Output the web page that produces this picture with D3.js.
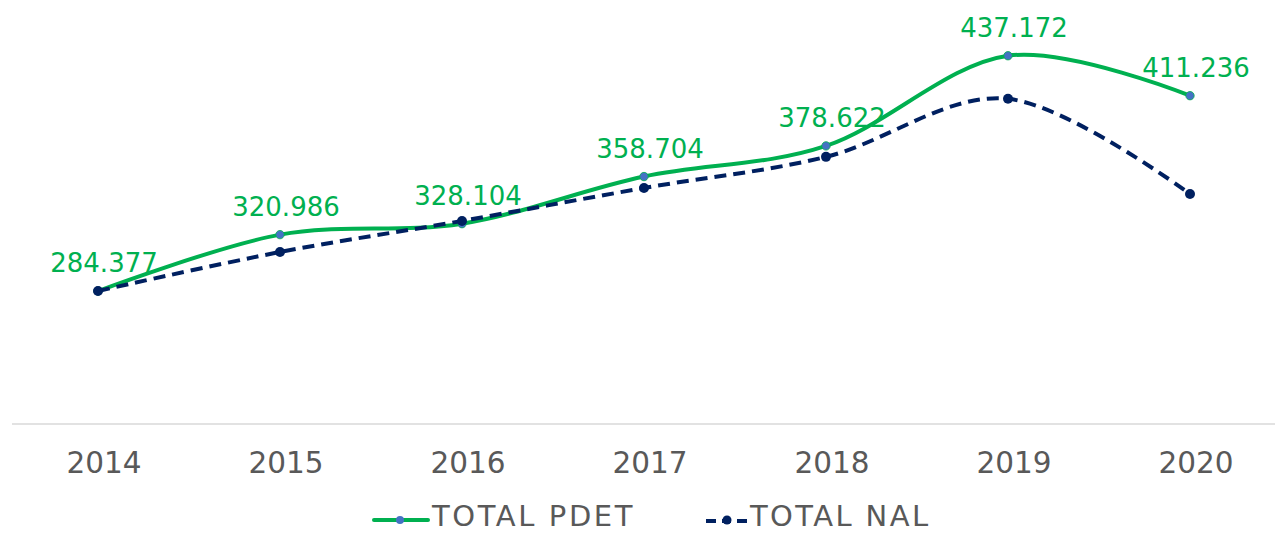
<!DOCTYPE html>
<html>
<head>
<meta charset="UTF-8">
<title>TOTAL PDET vs TOTAL NAL</title>
<script src="https://d3js.org/d3.v7.min.js"></script>
<style>
  body { margin: 0; background: #fff; }
  svg text { font-family: "DejaVu Sans", sans-serif; }
</style>
</head>
<body>
<svg id="chart" width="1275" height="533"></svg>
<script>
  // data
  var years = ["2014", "2015", "2016", "2017", "2018", "2019", "2020"];
  var pdetValues = [284.377, 320.986, 328.104, 358.704, 378.622, 437.172, 411.236];
  var pdetLabels = ["284.377", "320.986", "328.104", "358.704", "378.622", "437.172", "411.236"];
  // NAL has no labels in the picture, estimated on the same scale
  var nalValues = [284.4, 309.7, 329.9, 351.3, 371.5, 409.2, 347.4];
  var seriesNames = ["TOTAL PDET", "TOTAL NAL"];

  var green = "#00B050";
  var navy = "#002060";
  var grey = "#595959";

  var svg = d3.select("#chart");

  var x = d3.scalePoint()
    .domain(years)
    .range([7, 1281])
    .padding(0.5);

  var y = d3.scaleLinear()
    .domain([198, 450])
    .range([424, 36]);

  // bottom axis line
  svg.append("line")
    .attr("x1", 12)
    .attr("x2", 1275)
    .attr("y1", y(198))
    .attr("y2", y(198))
    .style("stroke", "#d9d9d9")
    .style("stroke-width", 1.5);

  // year labels
  svg.append("g")
    .selectAll("text")
    .data(years)
    .enter()
    .append("text")
    .attr("x", d => x(d) + 6)
    .attr("y", 473)
    .attr("text-anchor", "middle")
    .style("font-size", "29.5px")
    .style("fill", grey)
    .text(d => d);

  var line = d3.line()
    .x((d, i) => x(years[i]))
    .y(d => y(d))
    .curve(d3.curveCatmullRom.alpha(0));

  // PDET series
  svg.append("path")
    .datum(pdetValues)
    .attr("d", line)
    .style("fill", "none")
    .style("stroke", green)
    .style("stroke-width", 4);

  svg.append("g")
    .selectAll("circle")
    .data(pdetValues)
    .enter()
    .append("circle")
    .attr("cx", (d, i) => x(years[i]))
    .attr("cy", d => y(d))
    .attr("r", 4.2)
    .style("fill", "#4472C4")
    .style("stroke", green)
    .style("stroke-width", 0.8);

  // NAL series
  svg.append("path")
    .datum(nalValues)
    .attr("d", line)
    .style("fill", "none")
    .style("stroke", navy)
    .style("stroke-width", 4)
    .style("stroke-dasharray", "12,7");

  svg.append("g")
    .selectAll("circle")
    .data(nalValues)
    .enter()
    .append("circle")
    .attr("cx", (d, i) => x(years[i]))
    .attr("cy", d => y(d))
    .attr("r", 5)
    .style("fill", navy);

  // data labels for PDET
  svg.append("g")
    .selectAll("text")
    .data(pdetValues)
    .enter()
    .append("text")
    .attr("x", (d, i) => x(years[i]) + 6)
    .attr("y", d => y(d) - 19)
    .attr("text-anchor", "middle")
    .style("font-size", "26px")
    .style("fill", green)
    .text((d, i) => pdetLabels[i]);

  // legend (kept a little above the bottom edge)
  var legend = svg.append("g");

  legend.append("line")
    .attr("x1", 374).attr("x2", 428)
    .attr("y1", 520).attr("y2", 520)
    .style("stroke", green)
    .style("stroke-width", 4)
    .style("stroke-linecap", "round");
  legend.append("circle")
    .attr("cx", 400).attr("cy", 520).attr("r", 4)
    .style("fill", "#4472C4");
  legend.append("text")
    .attr("x", 432).attr("y", 526)
    .style("font-size", "29px")
    .style("letter-spacing", "2.6px")
    .style("fill", grey)
    .text(seriesNames[0]);

  legend.append("line")
    .attr("x1", 706).attr("x2", 747)
    .attr("y1", 521).attr("y2", 521)
    .style("stroke", navy)
    .style("stroke-width", 4)
    .style("stroke-dasharray", "10,6,9,6,10");
  legend.append("circle")
    .attr("cx", 727).attr("cy", 520).attr("r", 4.5)
    .style("fill", navy);
  legend.append("text")
    .attr("x", 750).attr("y", 526)
    .style("font-size", "29px")
    .style("letter-spacing", "2.4px")
    .style("fill", grey)
    .text(seriesNames[1]);
</script>
</body>
</html>
